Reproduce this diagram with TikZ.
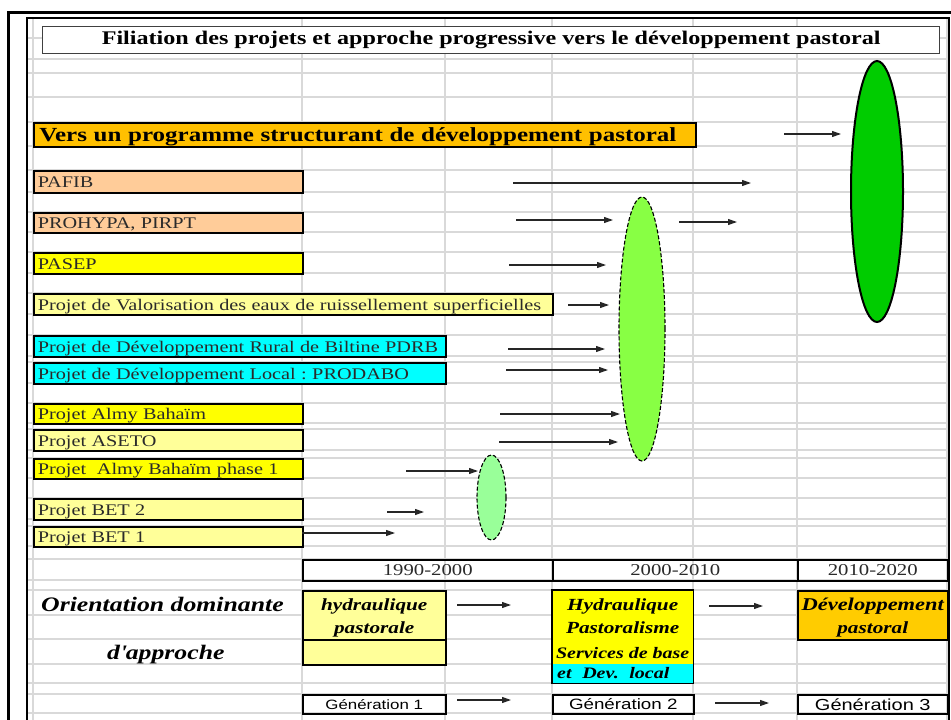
\documentclass[tikz,border=0pt]{standalone}
\usepackage{fontspec}
\setmainfont{Liberation Serif}[FakeStretch=1.25]
\newfontfamily\gensans{Liberation Sans}[FakeStretch=1.25]
\usetikzlibrary{arrows.meta,shapes.geometric}
\definecolor{gridc}{HTML}{D9D9D9}
\definecolor{peach}{HTML}{FFCC99}
\definecolor{yel}{HTML}{FFFF00}
\definecolor{lyel}{HTML}{FFFF99}
\definecolor{cyn}{HTML}{00FFFF}
\definecolor{orangebar}{HTML}{FFC000}
\definecolor{gold}{HTML}{FFCC00}
\definecolor{dgreen}{HTML}{00CC00}
\definecolor{mgreen}{HTML}{88FF44}
\definecolor{lgreen}{HTML}{99FF99}
\definecolor{txtc}{HTML}{2A2A2A}
\frenchspacing
\begin{document}
\begin{tikzpicture}[x=1pt,y=-1pt,
  gridline/.style={draw=gridc,line width=1.6pt},
  pbox/.style={draw,line width=1.6pt,anchor=north west,inner xsep=4pt,inner ysep=0pt,
    align=left,text=txtc,text height=13pt,text depth=1pt,
    font=\fontsize{16.2}{17}\selectfont},
  ybox/.style={draw,line width=1.5pt,anchor=north west,inner sep=0pt,
    text height=11pt,text depth=0pt,
    font=\fontsize{16.6}{17}\selectfont,text=txtc},
  obox/.style={anchor=north west,inner sep=0pt,align=center,
    font=\fontsize{17}{23}\selectfont\bfseries\itshape},
  gbox/.style={draw,line width=1.5pt,anchor=north west,inner sep=0pt},
  arr/.style={-{Triangle[length=9pt,width=6pt]},line width=1.1pt,draw=black!85},
  ell/.style={ellipse,inner sep=0pt,draw}
]
\useasboundingbox (0,0) rectangle (951,720);
% grid
\foreach \x in {33,302,445,552,693,797,947}
  \draw[gridline] (\x,18) -- (\x,722);
\foreach \y in {38,59,73,97,122,146,170,192,212,232,252,273,293,314,335,356,362,383,403,423,429,450,458,478,498,519,526,546,559,580,590,615,639,664,683,694,713}
  \draw[gridline] (27,\y) -- (949,\y);
% frames
\draw[line width=3pt] (8,730) -- (8,12) -- (960,12);
\draw[line width=1.4pt] (27,730) -- (27,18) -- (949,18) -- (949,730);
% title
\node[draw=black!75,line width=1.4pt,fill=white,anchor=north west,inner sep=0pt,
  minimum width=897pt,minimum height=27pt,text height=13pt,text depth=4pt,
  font=\fontsize{19.3}{20}\selectfont\bfseries]
  (title) at (42,26) {Filiation des projets et approche progressive vers le développement pastoral};
% orange bar
\node[pbox,fill=orangebar,text=black,minimum height=24pt,text width=651pt,inner xsep=5.5pt,
  font=\fontsize{20}{21}\selectfont\bfseries,text height=14.5pt,text depth=0.5pt]
  (vers) at (33,122) {Vers un programme structurant de développement pastoral};
% project boxes
\node[pbox,fill=peach,minimum height=22pt,text width=261pt] (pafib) at (33,170) {PAFIB};
\node[pbox,fill=peach,minimum height=20pt,text width=261pt] (prohypa) at (33,212) {PROHYPA, PIRPT};
\node[pbox,fill=yel,minimum height=21pt,text width=261pt] (pasep) at (33,252) {PASEP};
\node[pbox,fill=lyel,minimum height=21pt,text width=511pt] (pve) at (33,293) {Projet de Valorisation des eaux de ruissellement superficielles};
\node[pbox,fill=cyn,minimum height=21pt,text width=404pt] (pdrb) at (33,335) {Projet de Développement Rural de Biltine PDRB};
\node[pbox,fill=cyn,minimum height=21pt,text width=404pt] (prodabo) at (33,362) {Projet de Développement Local : PRODABO};
\node[pbox,fill=yel,minimum height=20pt,text width=261pt] (almy) at (33,403) {Projet Almy Bahaïm};
\node[pbox,fill=lyel,minimum height=21pt,text width=261pt] (aseto) at (33,429) {Projet ASETO};
\node[pbox,fill=yel,minimum height=20pt,text width=261pt] (almyone) at (33,458) {Projet\ \ Almy Bahaïm phase 1};
\node[pbox,fill=lyel,minimum height=21pt,text width=261pt] (bettwo) at (33,498) {Projet BET 2};
\node[pbox,fill=lyel,minimum height=20pt,text width=261pt] (betone) at (33,526) {Projet BET 1};
% ellipses
\node[ell,fill=dgreen,line width=2pt,minimum width=52pt,minimum height=261pt] (gen3e) at (877,191.5) {};
\node[ell,fill=mgreen,line width=1.1pt,dash pattern=on 4pt off 2pt,minimum width=46pt,minimum height=264pt] (gen2e) at (642,329) {};
\node[ell,fill=lgreen,line width=1.1pt,dash pattern=on 4pt off 2pt,minimum width=29pt,minimum height=85pt] (gen1e) at (491.5,497.5) {};
% arrow end points
\coordinate (a0s) at (784,134);  \coordinate (a0e) at (841,134);
\coordinate (a1s) at (513,183);  \coordinate (a1e) at (751,183);
\coordinate (a2s) at (516,220);  \coordinate (a2e) at (613,220);
\coordinate (a3s) at (679,222);  \coordinate (a3e) at (737,222);
\coordinate (a4s) at (509,265);  \coordinate (a4e) at (606,265);
\coordinate (a5s) at (568,305);  \coordinate (a5e) at (609,305);
\coordinate (a6s) at (508,349);  \coordinate (a6e) at (605,349);
\coordinate (a7s) at (506,370);  \coordinate (a7e) at (608,370);
\coordinate (a8s) at (500,414);  \coordinate (a8e) at (620,414);
\coordinate (a9s) at (499,442);  \coordinate (a9e) at (618,442);
\coordinate (a10s) at (406,471); \coordinate (a10e) at (478,471);
\coordinate (a11s) at (387,512); \coordinate (a11e) at (424,512);
\coordinate (a12s) at (302,533); \coordinate (a12e) at (395,533);
\foreach \i in {0,...,12} \draw[arr] (a\i s) -- (a\i e);
% years
\node[ybox,minimum width=250pt,minimum height=21pt] (y1) at (302,559) {1990-2000};
\node[ybox,minimum width=245pt,minimum height=21pt] (y2) at (552,559) {2000-2010};
\node[ybox,minimum width=150pt,minimum height=21pt] (y3) at (797,559) {2010-2020};
% orientation labels
\node[font=\fontsize{20.6}{21}\selectfont\bfseries\itshape,anchor=base west,inner sep=0pt] (orient) at (41,611) {Orientation dominante};
\node[font=\fontsize{20.6}{21}\selectfont\bfseries\itshape,anchor=base west,inner sep=0pt] (approche) at (107,659) {d\textquotesingle approche};
% orientation boxes
\node[obox,fill=lyel,draw,line width=1.5pt,minimum width=143pt,minimum height=49pt,
  text height=43pt,text depth=6pt] (o1) at (302,590) {hydraulique\\pastorale};
\node[gbox,fill=lyel,minimum width=143pt,minimum height=25pt] (o1b) at (302,639) {};
\node[obox,fill=yel,minimum width=141pt,minimum height=74pt,text height=68pt,text depth=6pt] (o2) at (552,590)
  {Hydraulique\\Pastoralisme\\[2pt]{\fontsize{16}{16}\selectfont Services de base}};
\node[anchor=north west,fill=cyn,minimum width=141pt,minimum height=19pt,inner xsep=5pt,inner ysep=0pt,
  text height=14pt,text depth=5pt,
  align=left,text width=131pt,font=\fontsize{16}{16}\selectfont\bfseries\itshape] (o2b) at (552,664) {et\ \ Dev.\ \ local};
\draw[line width=1.5pt] (o2.north west) rectangle (o2b.south east);
\node[obox,fill=gold,draw,line width=1.5pt,minimum width=150pt,minimum height=49pt,
  text height=43pt,text depth=6pt] (o3) at (797,590) {{\fontsize{18}{23}\selectfont Développement}\\pastoral};
\draw[arr] (457,605) -- (511,605);
\draw[arr] (709,606) -- (763,606);
% generations
\node[gbox,minimum width=143pt,minimum height=19pt,font=\gensans\fontsize{13.5}{14}\selectfont] (g1) at (302,694) {Génération 1};
\node[gbox,minimum width=141pt,minimum height=19pt,font=\gensans\fontsize{15}{15}\selectfont] (g2) at (552,694) {Génération 2};
\node[gbox,minimum width=150pt,minimum height=19pt,font=\gensans\fontsize{16}{16}\selectfont] (g3) at (797,694) {Génération 3};
\draw[arr] (457,700) -- (511,700);
\draw[arr] (715,703) -- (769,703);
\end{tikzpicture}
\end{document}
